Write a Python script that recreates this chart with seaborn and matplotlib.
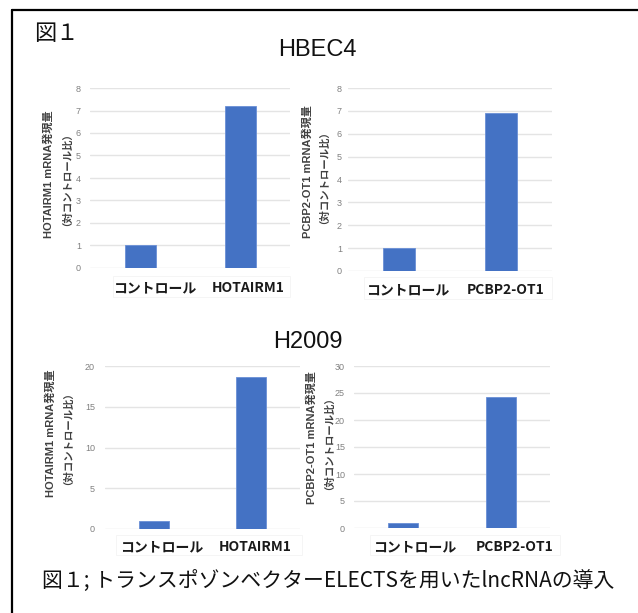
import matplotlib
matplotlib.use("Agg")
import matplotlib.pyplot as plt
import matplotlib.transforms as mtransforms
from matplotlib.lines import Line2D
from matplotlib.patches import Rectangle
import seaborn as sns
import pandas as pd

# --- data -----------------------------------------------------------------
hbec4_hot_categories = ["コントロール", "HOTAIRM1"]
hbec4_hot_values = [1.0, 7.2]
hbec4_pcbp_categories = ["コントロール", "PCBP2-OT1"]
hbec4_pcbp_values = [1.0, 6.9]
h2009_hot_categories = ["コントロール", "HOTAIRM1"]
h2009_hot_values = [1.0, 18.6]
h2009_pcbp_categories = ["コントロール", "PCBP2-OT1"]
h2009_pcbp_values = [1.0, 24.2]

hot_ylabel = "HOTAIRM1 mRNA発現量"
pcbp_ylabel = "PCBP2-OT1 mRNA発現量"
ratio_label = "（対コントロール比）"

hbec4_ticks = [0, 1, 2, 3, 4, 5, 6, 7, 8]
h2009_hot_ticks = [0, 5, 10, 15, 20]
h2009_pcbp_ticks = [0, 5, 10, 15, 20, 25, 30]

figure_label = "図１"
caption = "図１; トランスポゾンベクターELECTSを用いたlncRNAの導入"
title_top = "HBEC4"
title_bottom = "H2009"

# --- style ----------------------------------------------------------------
sns.set_theme(style="white")
plt.rcParams["font.family"] = ["Noto Sans CJK JP", "DejaVu Sans"]

W, H = 638, 613
DPI = 100
fig = plt.figure(figsize=(W / DPI, H / DPI), dpi=DPI)
fig.patch.set_facecolor("white")


def fx(x):
    return x / W


def fy(y):
    return 1 - y / H


def pt(px):
    return px * 72 / DPI


BAR = "#4472C4"
GRID = "#e4e4e4"
TICK = "#808080"
LAB = "#404040"


def panel(rect, cats, vals, ticks, pad_y, pad_x, label_shift, ylabel,
          lab_x, lab_y):
    x0, y0, x1, y1 = rect
    ax = fig.add_axes([fx(x0), fy(y1), (x1 - x0) / W, (y1 - y0) / H])
    df = pd.DataFrame({"category": cats, "value": vals})
    sns.barplot(data=df, x="category", y="value", ax=ax, color=BAR,
                saturation=1, width=0.31, errorbar=None,
                edgecolor="#6a8fd6", linewidth=0.6, zorder=3)
    ax.set_xlim(-0.5, 1.5)
    ax.set_ylim(ticks[0], ticks[-1])
    ax.set_yticks(ticks)
    ax.set_yticklabels([str(t) for t in ticks],
                       family=["Liberation Sans", "DejaVu Sans"])
    ax.yaxis.grid(True, color=GRID, lw=1.0, zorder=0)
    ax.xaxis.grid(False)
    ax.set_axisbelow(True)
    for s in ax.spines.values():
        s.set_visible(False)
    ax.set_xlabel("")
    ax.set_ylabel("")
    ax.tick_params(axis="y", length=0, labelsize=6.5, labelcolor=TICK,
                   pad=pt(pad_y))
    ax.tick_params(axis="x", length=0, labelsize=10, labelcolor="#1a1a1a",
                   pad=pt(pad_x))
    for t, dx in zip(ax.get_xticklabels(), label_shift):
        t.set_fontweight("bold")
        t.set_transform(t.get_transform() + mtransforms.ScaledTranslation(
            dx / DPI, 0, fig.dpi_scale_trans))
    ax.patch.set_alpha(0)
    # two-line rotated axis title
    fig.text(fx(lab_x[0]), fy(lab_y), ylabel, rotation=90, ha="center",
             va="center", fontsize=8, color=LAB, fontweight="bold",
             family=["Liberation Sans", "Noto Sans CJK JP"])
    fig.text(fx(lab_x[1]), fy(lab_y), ratio_label, rotation=90, ha="center",
             va="center", fontsize=7.5, color=LAB, fontweight="bold")
    return ax


panel((90, 88, 290, 268), hbec4_hot_categories, hbec4_hot_values,
      hbec4_ticks, 9, 13, (15, 8), hot_ylabel, (49, 62), 174)
panel((348, 88, 552, 271), hbec4_pcbp_categories, hbec4_pcbp_values,
      hbec4_ticks, 6, 12, (9, 5), pcbp_ylabel, (308, 319), 172)
panel((105, 366, 300, 529), h2009_hot_categories, h2009_hot_values,
      h2009_hot_ticks, 10, 11, (8, 4), hot_ylabel, (51, 63), 433)
panel((354, 366, 550, 528), h2009_pcbp_categories, h2009_pcbp_values,
      h2009_pcbp_ticks, 9, 12, (12, 14), pcbp_ylabel, (312, 324), 438)

# faint frames around the category labels
for (x0, y0, x1, y1) in [(113, 276, 290, 297), (364, 277, 552, 299),
                         (116, 535, 302, 555), (370, 535, 560, 555)]:
    fig.patches.append(Rectangle((fx(x0), fy(y1)), (x1 - x0) / W,
                                 (y1 - y0) / H, transform=fig.transFigure,
                                 fill=False, edgecolor="#f5f5f5", lw=0.7))

# titles and captions
fig.text(fx(317), fy(50), title_top, ha="center", va="center", fontsize=17,
         family=["Liberation Sans", "DejaVu Sans"], color="#111111")
fig.text(fx(307.5), fy(342), title_bottom, ha="center", va="center",
         fontsize=17, family=["Liberation Sans", "DejaVu Sans"],
         color="#111111")
fig.text(fx(34), fy(34), figure_label, ha="left", va="center", fontsize=16,
         color="#111111")
fig.text(fx(42), fy(582), caption, ha="left", va="center", fontsize=15,
         color="#111111")

# frame lines at top and left
fig.lines.append(Line2D([fx(12), 1.0], [fy(10), fy(10)],
                        transform=fig.transFigure, color="black", lw=1.6))
fig.lines.append(Line2D([fx(12), fx(12)], [fy(10), 0.0],
                        transform=fig.transFigure, color="black", lw=1.6))

fig.savefig("out.png", dpi=DPI, facecolor="white")
